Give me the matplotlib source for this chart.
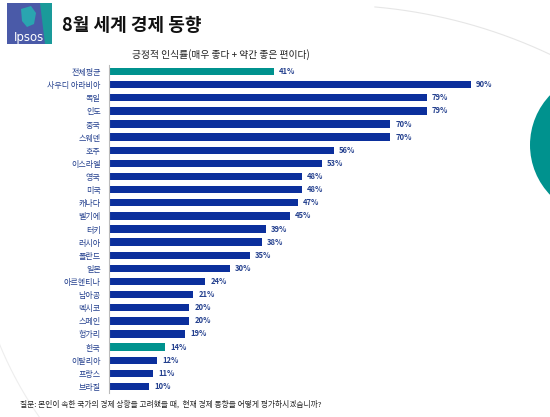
import matplotlib
matplotlib.use("Agg")
import numpy as np
import matplotlib.pyplot as plt
from matplotlib.patches import Circle, Rectangle, Polygon

plt.rcParams['font.family'] = ['Noto Sans CJK KR', 'DejaVu Sans']

categories = ["전체평균", "사우디 아라비아", "독일", "인도", "중국", "스웨덴", "호주", "이스라엘",
              "영국", "미국", "캐나다", "벨기에", "터키", "러시아", "폴란드", "일본", "아르헨티나",
              "남아공", "멕시코", "스페인", "헝가리", "한국", "이탈리아", "프랑스", "브라질"]
values = [41, 90, 79, 79, 70, 70, 56, 53, 48, 48, 47, 45, 39, 38, 35, 30, 24, 21, 20, 20, 19, 14, 12, 11, 10]
highlight = ["전체평균", "한국"]

title = "8월 세계 경제 동향"
subtitle = "긍정적 인식률(매우 좋다 + 약간 좋은 편이다)"
footer = "질문: 본인이 속한 국가의 경제 상황을 고려했을 때,  현재 경제 동향을 어떻게 평가하시겠습니까?"

NAVY = "#0b2f9c"
TEAL = "#00928e"
LABEL = "#24408e"

W, H = 550, 417
fig = plt.figure(figsize=(W/100, H/100), dpi=100)
fig.patch.set_facecolor("white")

# background decorations
bg = fig.add_axes([0, 0, 1, 1])
bg.set_xlim(0, W)
bg.set_ylim(H, 0)
bg.axis("off")
t = np.linspace(np.radians(-85), np.radians(-60), 200)
bg.plot(330 + 515*np.cos(t), 520 + 515*np.sin(t), color="#e6e6e6", lw=0.8)
t2 = np.linspace(np.radians(140), np.radians(162), 200)
bg.plot(350 + 379*np.cos(t2), 200 + 379*np.sin(t2), color="#eeeeee", lw=0.8)
bg.add_patch(Circle((602, 145), 72, color=TEAL, lw=0))
# logo
bg.add_patch(Rectangle((7, 3), 45, 41, color="#4a5aa8", lw=0))
bg.add_patch(Polygon([(40, 3), (52, 3), (52, 44), (45, 44)], closed=True, color="#1a9a9a", lw=0))
bg.add_patch(Polygon([(21, 9), (31, 6), (36, 13), (34, 24), (27, 27), (22, 21)], closed=True, color="#2aa5b0", lw=0))
bg.text(29, 37, "Ipsos", color="white", fontsize=8.5, ha="center", va="center", family=["DejaVu Sans"])
# titles
bg.text(62, 25, title, fontsize=13, fontweight="bold", ha="left", va="center", color="#111111")
bg.text(221, 55, subtitle, fontsize=7, ha="center", va="center", color="#222222")
bg.text(20, 404, footer, fontsize=5.6, ha="left", va="center", color="#222222")

ax = fig.add_axes([109/W, (H-393)/H, 402/W, 328/H])
ax.set_facecolor("none")
y = list(range(len(categories)))
colors = [TEAL if c in highlight else NAVY for c in categories]
ax.barh(y, values, height=0.56, color=colors, zorder=2)
for yi, v in zip(y, values):
    ax.text(v + 1.2, yi, f"{v}%", va="center", ha="left", fontsize=5.5, fontweight="bold", color=LABEL)
ax.set_xlim(0, 100)
ax.set_ylim(len(categories) - 0.5, -0.5)
ax.set_yticks(y)
ax.set_yticklabels(categories, fontsize=5.8, color=LABEL)
ax.tick_params(axis="y", length=0, pad=6)
ax.set_xticks([])
for s in ["top", "right", "bottom"]:
    ax.spines[s].set_visible(False)
ax.spines["left"].set_color("#bbbbbb")
ax.spines["left"].set_linewidth(0.8)

fig.savefig("out.png", dpi=100)
